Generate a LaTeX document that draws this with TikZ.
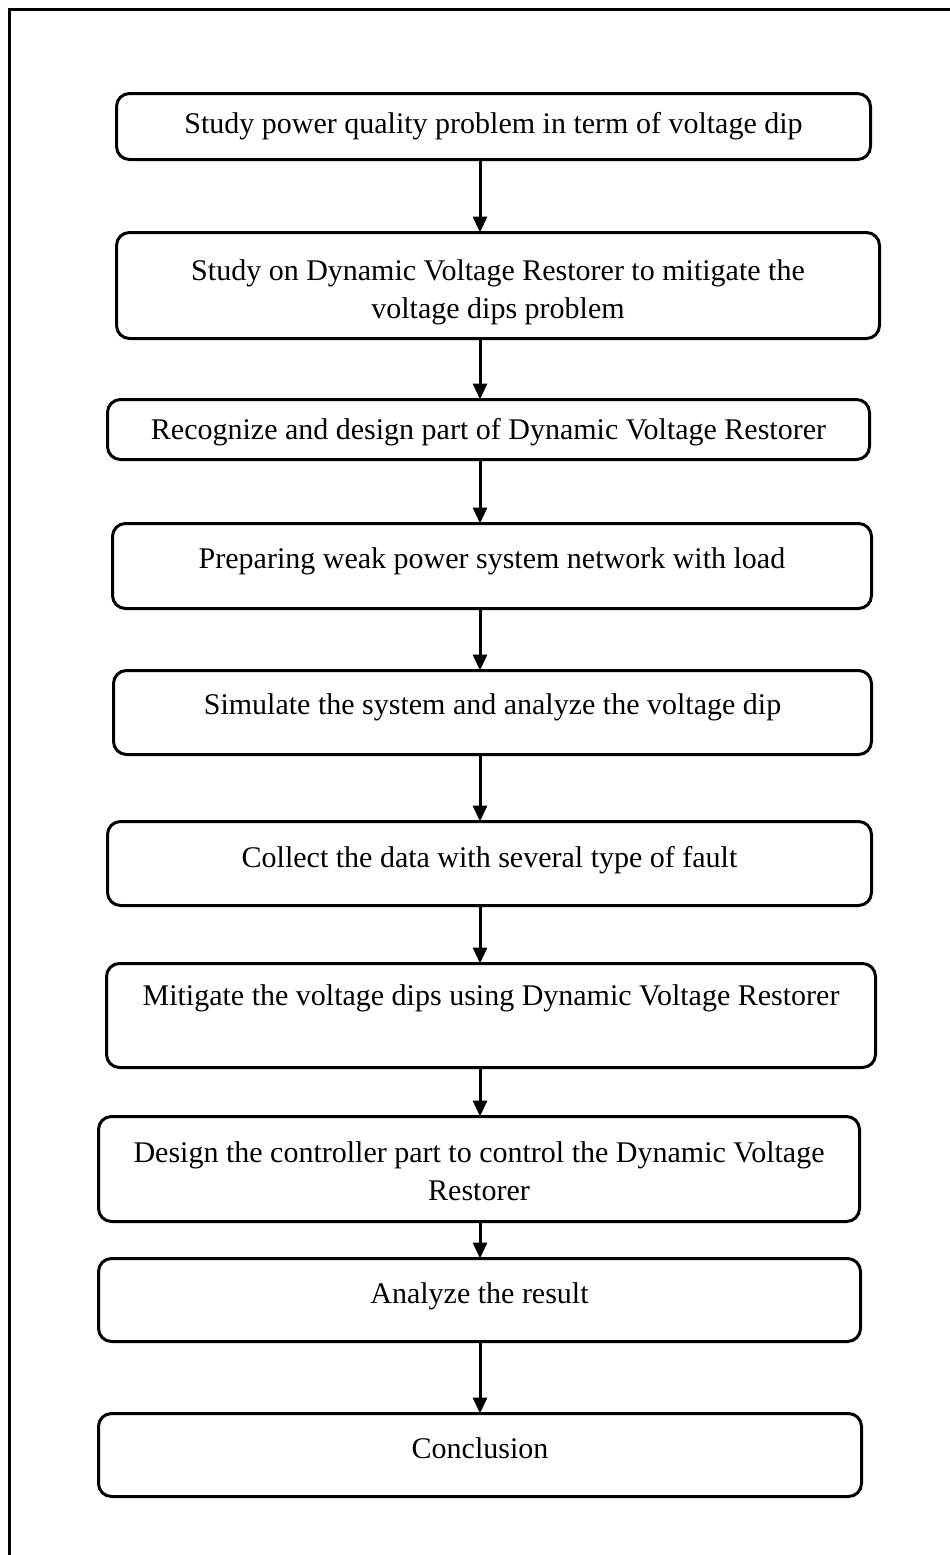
\documentclass[tikz,border=0pt]{standalone}
\usepackage{fontspec}
\setmainfont{Liberation Serif}
\usetikzlibrary{arrows.meta}

\begin{document}
\begin{tikzpicture}[x=1pt, y=-1pt,
  stepbox/.style={draw, line width=3pt, rounded corners=13pt, inner sep=0pt, outer sep=0pt},
  steptext/.style={inner sep=0pt, anchor=base, font=\fontsize{30}{38}\selectfont},
  flow/.style={line width=3pt, -{Triangle[length=16pt, width=14pt]}},
  frame/.style={line width=3pt}]

\useasboundingbox (0,0) rectangle (950,1555);

% page frame (left and top rules)
\coordinate (fbl) at (9.5,1555);
\coordinate (ftl) at (9.5,10);
\coordinate (ftr) at (950,10);
\draw[frame] (fbl) -- (ftl) -- (ftr);

% boxes
\node[stepbox, minimum width=754pt, minimum height=66pt]  (b1)  at (493.5,126.5) {};
\node[stepbox, minimum width=763pt, minimum height=106pt] (b2)  at (498,285.5) {};
\node[stepbox, minimum width=762pt, minimum height=60pt]  (b3)  at (488.5,429.5) {};
\node[stepbox, minimum width=759pt, minimum height=85pt]  (b4)  at (492,566) {};
\node[stepbox, minimum width=758pt, minimum height=84pt]  (b5)  at (492.5,712.5) {};
\node[stepbox, minimum width=764pt, minimum height=84pt]  (b6)  at (489.5,863.5) {};
\node[stepbox, minimum width=769pt, minimum height=104pt] (b7)  at (491,1015.5) {};
\node[stepbox, minimum width=761pt, minimum height=105pt] (b8)  at (479,1169) {};
\node[stepbox, minimum width=762pt, minimum height=83pt]  (b9)  at (479.5,1300) {};
\node[stepbox, minimum width=763pt, minimum height=83pt]  (b10) at (480,1455) {};

% labels
\node[steptext] (t1)  at (493.5,133) {Study power quality problem in term of voltage dip};
\node[steptext] (t2a) at (498,280) {Study on Dynamic Voltage Restorer to mitigate the};
\node[steptext] (t2b) at (498,318) {voltage dips problem};
\node[steptext] (t3)  at (488.5,439) {Recognize and design part of Dynamic Voltage Restorer};
\node[steptext] (t4)  at (492,568) {Preparing weak power system network with load};
\node[steptext] (t5)  at (492.5,714) {Simulate the system and analyze the voltage dip};
\node[steptext] (t6)  at (489.5,867) {Collect the data with several type of fault};
\node[steptext] (t7)  at (491,1005) {Mitigate the voltage dips using Dynamic Voltage Restorer};
\node[steptext] (t8a) at (479,1162) {Design the controller part to control the Dynamic Voltage};
\node[steptext] (t8b) at (479,1200) {Restorer};
\node[steptext] (t9)  at (479.5,1303) {Analyze the result};
\node[steptext] (t10) at (480,1458) {Conclusion};

% connectors
\coordinate (ax) at (480,0);
\draw[flow] (b1.south -| ax) -- (b2.north -| ax);
\draw[flow] (b2.south -| ax) -- (b3.north -| ax);
\draw[flow] (b3.south -| ax) -- (b4.north -| ax);
\draw[flow] (b4.south -| ax) -- (b5.north -| ax);
\draw[flow] (b5.south -| ax) -- (b6.north -| ax);
\draw[flow] (b6.south -| ax) -- (b7.north -| ax);
\draw[flow] (b7.south -| ax) -- (b8.north -| ax);
\draw[flow] (b8.south -| ax) -- (b9.north -| ax);
\draw[flow] (b9.south -| ax) -- (b10.north -| ax);
\end{tikzpicture}
\end{document}
